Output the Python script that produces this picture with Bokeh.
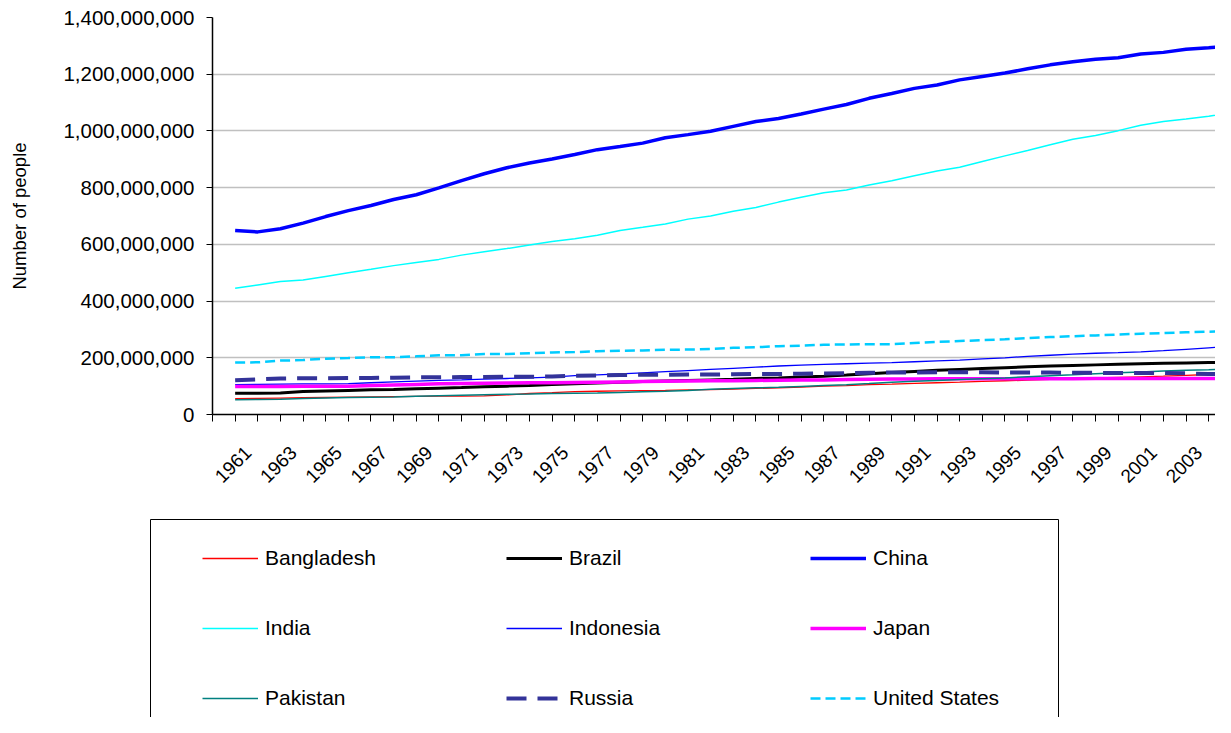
import math
from bokeh.plotting import figure
from bokeh.layouts import column
from bokeh.models import (ColumnDataSource, Legend, LegendItem, FixedTicker,
                          NumeralTickFormatter, CustomJSTickFormatter, BoxAnnotation, Range1d)
from bokeh.embed import file_html
from bokeh.resources import INLINE

# ---------------- data (millions of people) ----------------
years = list(range(1961, 2006))
bangladesh = [56, 57, 58, 59, 60, 61, 62, 63, 64, 65,
              65, 66, 69, 74, 77, 81, 82, 83, 84, 85,
              87, 88, 90, 92, 94, 97, 100, 102, 105, 107,
              110, 112, 114, 117, 119, 121, 124, 127, 129, 131,
              133, 135, 138, 141, 143]
brazil = [75, 75, 76, 81, 83, 85, 87, 88, 91, 93,
          95, 98, 100, 102, 106, 108, 111, 114, 116, 118,
          120, 122, 124, 127, 129, 132, 135, 139, 144, 148,
          152, 156, 159, 162, 165, 168, 171, 173, 175, 177,
          179, 181, 182, 183, 184]
china = [649, 644, 655, 675, 698, 719, 737, 758, 775, 799,
         825, 849, 870, 887, 901, 917, 934, 945, 957, 976,
         987, 999, 1016, 1033, 1044, 1060, 1077, 1093, 1115, 1132,
         1150, 1162, 1180, 1192, 1204, 1219, 1233, 1244, 1253, 1258,
         1271, 1277, 1288, 1293, 1299]
india = [445, 457, 469, 474, 487, 500, 512, 525, 536, 547,
         562, 574, 585, 598, 610, 620, 632, 649, 660, 672,
         689, 700, 717, 730, 749, 766, 782, 792, 809, 824,
         842, 859, 872, 892, 912, 931, 951, 971, 984, 1001,
         1020, 1033, 1042, 1052, 1064]
indonesia = [105, 106, 107, 108, 108, 109, 112, 115, 118, 120,
             122, 125, 127, 129, 132, 137, 140, 143, 147, 151,
             155, 159, 163, 167, 171, 174, 177, 179, 181, 183,
             186, 189, 192, 196, 200, 205, 209, 213, 216, 218,
             221, 225, 230, 235, 240]
japan = [99, 99, 99, 100, 100, 100, 102, 104, 106, 108,
         109, 110, 111, 112, 112, 113, 114, 115, 116, 117,
         118, 119, 119, 120, 121, 122, 122, 123, 124, 125,
         125, 126, 126, 126, 126, 126, 126, 126, 127, 127,
         127, 127, 127, 127, 127]
pakistan = [52, 53, 54, 56, 58, 60, 61, 62, 64, 66,
            68, 70, 71, 72, 74, 75, 76, 78, 80, 82,
            85, 89, 92, 94, 96, 99, 102, 105, 109, 114,
            117, 120, 123, 126, 129, 133, 137, 140, 144, 147,
            150, 153, 156, 158, 161]
russia = [121, 124, 127, 128, 128, 129, 129, 130, 131, 131,
          132, 132, 133, 133, 134, 137, 138, 139, 140, 140,
          141, 141, 142, 143, 143, 144, 145, 146, 147, 148,
          148, 149, 149, 149, 148, 148, 148, 147, 147, 146,
          146, 146, 145, 143, 141]
united_states = [183, 184, 190, 192, 197, 199, 202, 202, 205, 209,
                 209, 213, 213, 216, 219, 220, 223, 225, 226, 228,
                 229, 231, 235, 237, 241, 243, 246, 247, 248, 248,
                 252, 256, 259, 262, 265, 269, 273, 276, 279, 282,
                 285, 287, 290, 292, 294]

series_names = ["Bangladesh", "Brazil", "China", "India", "Indonesia",
                "Japan", "Pakistan", "Russia", "United States"]
series_values = [bangladesh, brazil, china, india, indonesia,
                 japan, pakistan, russia, united_states]
label_years = list(range(1961, 2004, 2))
y_ticks = [0, 200e6, 400e6, 600e6, 800e6, 1000e6, 1200e6, 1400e6]

# ---------------- styles ----------------
styles = {
    "Bangladesh":    dict(line_color="#FF0000", line_width=1.3),
    "Brazil":        dict(line_color="#000000", line_width=3),
    "China":         dict(line_color="#0000FF", line_width=3.5),
    "India":         dict(line_color="#00FFFF", line_width=1.5),
    "Indonesia":     dict(line_color="#0000FF", line_width=1.3),
    "Japan":         dict(line_color="#FF00FF", line_width=3.5),
    "Pakistan":      dict(line_color="#008080", line_width=1.5),
    "Russia":        dict(line_color="#333399", line_width=4, line_dash="20 11"),
    "United States": dict(line_color="#00CCFF", line_width=2.5, line_dash="10 5"),
}

data = {"year": years}
for name, vals in zip(series_names, series_values):
    data[name] = [v * 1e6 for v in vals]
source = ColumnDataSource(data)

FONT = "Liberation Sans"
W = 1215
H_MAIN = 505
H_LEG = 212

# ---------------- main chart ----------------
p = figure(width=W, height=H_MAIN, output_backend="svg", toolbar_location=None,
           x_range=Range1d(1960, 2004.3), y_range=Range1d(0, 1.4e9),
           min_border_left=212, min_border_right=0, min_border_top=17,
           min_border_bottom=H_MAIN - 414)
p.frame_align = False
p.outline_line_color = None
p.background_fill_color = "white"
p.border_fill_color = "white"

for name in series_names:
    p.line(x="year", y=name, source=source, **styles[name])

p.xgrid.grid_line_color = None
p.ygrid.grid_line_color = "#c0c0c0"
p.ygrid.grid_line_width = 1.3
p.ygrid.ticker = FixedTicker(ticks=y_ticks)

ya = p.yaxis[0]
ya.ticker = FixedTicker(ticks=y_ticks)
ya.formatter = NumeralTickFormatter(format="0,0")
ya.axis_line_color = "black"
ya.axis_line_width = 1.5
ya.major_tick_out = 6
ya.major_tick_in = 0
ya.major_tick_line_color = "black"
ya.minor_tick_line_color = None
ya.major_label_standoff = 12
ya.major_label_text_font = FONT
ya.major_label_text_font_size = "20.5px"
ya.major_label_text_color = "black"
ya.axis_label = "Number of people"
ya.axis_label_text_font = FONT
ya.axis_label_text_font_size = "18.5px"
ya.axis_label_text_font_style = "normal"
ya.axis_label_text_color = "black"
ya.axis_label_standoff = 30

xa = p.xaxis[0]
xa.ticker = FixedTicker(ticks=[y + 0.57 for y in label_years],
                        minor_ticks=list(range(1960, 2006)))
xa.formatter = CustomJSTickFormatter(code="return String(Math.round(tick - 0.57));")
xa.major_label_orientation = math.pi / 4
xa.major_tick_line_color = None
xa.major_tick_out = 7
xa.major_tick_in = 0
xa.minor_tick_line_color = "black"
xa.minor_tick_out = 7
xa.minor_tick_in = 0
xa.axis_line_color = "black"
xa.axis_line_width = 1.5
xa.major_label_standoff = 28
xa.major_label_text_font = FONT
xa.major_label_text_font_size = "19px"
xa.major_label_text_color = "black"

# ---------------- legend panel ----------------
pl = figure(width=W, height=H_LEG, output_backend="svg", toolbar_location=None,
            x_range=Range1d(0, 1), y_range=Range1d(0, 1),
            x_axis_location=None, y_axis_location=None, min_border=0)
pl.frame_align = False
pl.outline_line_color = None
pl.grid.grid_line_color = None
pl.background_fill_color = "white"
pl.border_fill_color = "white"

items = []
for name in series_names:
    r = pl.line(x="year", y=name, source=source, visible=False, **styles[name])
    items.append(LegendItem(label=name, renderers=[r]))

box = BoxAnnotation(left=150, right=1058, top=H_LEG - (519 - H_MAIN), bottom=-40,
                    left_units="screen", right_units="screen",
                    top_units="screen", bottom_units="screen",
                    fill_alpha=0, line_color="#000000", line_alpha=1, line_width=1)
pl.add_layout(box)

row1 = 558.3 - H_MAIN
legend = Legend(items=items, location=(202, H_LEG - (row1 - 35) - 210),
                orientation="horizontal", ncols=3, click_policy="none",
                glyph_width=56, glyph_height=70, label_height=70, label_width=241,
                label_standoff=7, spacing=0, padding=0, margin=0,
                border_line_color=None, background_fill_alpha=0,
                label_text_font=FONT, label_text_font_size="21px",
                label_text_color="black")
pl.add_layout(legend)

layout = column(p, pl, spacing=0)
open("out.html", "w").write(file_html(layout, INLINE))
